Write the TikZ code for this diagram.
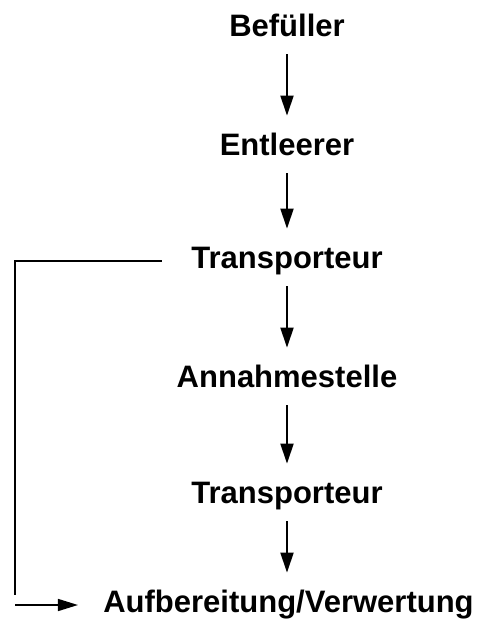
\documentclass[tikz,border=0pt]{standalone}
\usepackage{fontspec}
\setmainfont{Liberation Sans}
\usetikzlibrary{arrows.meta,positioning}

\begin{document}
\begin{tikzpicture}[
  x=0.5pt, y=-0.5pt,
  stage/.style={inner sep=0pt, text height=11pt, text depth=4pt, anchor=base, font=\fontsize{15.5}{18}\selectfont\bfseries},
  arr/.style={line width=1pt, -{Triangle[length=10pt, width=6.5pt]}, shorten <=5pt, shorten >=8.5pt},
  back/.style={line width=0.8pt}
]
\useasboundingbox (0,0) rectangle (481,623);

\node[stage] (bef) at (287,36) {Befüller};
\node[stage] (ent) at (287,155) {Entleerer};
\node[stage] (tr1) at (287,268) {Transporteur};
\node[stage] (ann) at (287,387) {Annahmestelle};
\node[stage] (tr2) at (287,503) {Transporteur};
\node[stage] (auf) at (288.5,612) {Aufbereitung/Verwertung};

\foreach \a/\b in {bef/ent, ent/tr1, tr1/ann, ann/tr2, tr2/auf}
  \draw[arr] (\a.south) -- (\a.south |- \b.north);

% Rueckfuehrung links
\coordinate (left) at (15,0);
\coordinate (corner) at (15,595);
\draw[back, shorten <=14.5pt] (tr1.west) -- (tr1.west -| left) -- (corner);
\draw[back, -{Triangle[length=10pt, width=6pt]}, shorten >=12.5pt] (left |- auf.west) -- (auf.west);

\end{tikzpicture}
\end{document}
